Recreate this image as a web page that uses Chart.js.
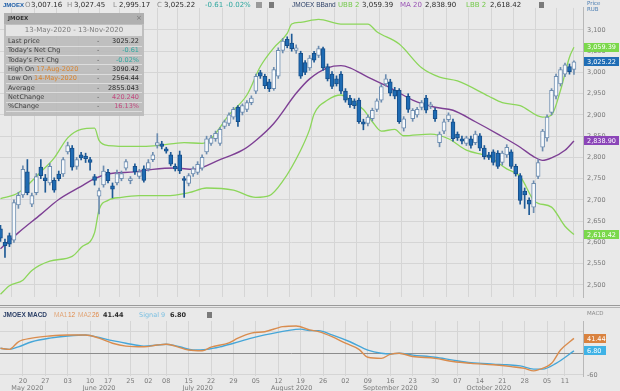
<!DOCTYPE html>
<html>
<head>
<meta charset="utf-8">
<script src="https://cdn.jsdelivr.net/npm/chart.js@4.4.1/dist/chart.umd.min.js"></script>
<style>
  html, body { margin: 0; padding: 0; background: #e9e9e9; }
  #box { position: relative; width: 620px; height: 391px; overflow: hidden; }
  canvas { position: absolute; left: 0; }
</style>
</head>
<body>
<div id="box">
  <canvas id="priceChart" width="620" height="305" style="top:0"></canvas>
  <canvas id="macdChart" width="620" height="86" style="top:305px"></canvas>
</div>
<script>
// trading days, 13 May - 13 Nov 2020
var dates = [
  '2020-05-13','2020-05-14','2020-05-15','2020-05-18','2020-05-19','2020-05-20','2020-05-21','2020-05-22','2020-05-25','2020-05-26','2020-05-27','2020-05-28','2020-05-29',
  '2020-06-01','2020-06-02','2020-06-03','2020-06-04','2020-06-05','2020-06-08','2020-06-09','2020-06-10','2020-06-11','2020-06-15','2020-06-16','2020-06-17','2020-06-18','2020-06-19','2020-06-22','2020-06-23','2020-06-25','2020-06-26','2020-06-29','2020-06-30',
  '2020-07-02','2020-07-03','2020-07-06','2020-07-07','2020-07-08','2020-07-09','2020-07-10','2020-07-13','2020-07-14','2020-07-15','2020-07-16','2020-07-17','2020-07-20','2020-07-21','2020-07-22','2020-07-23','2020-07-24','2020-07-27','2020-07-28','2020-07-29','2020-07-30','2020-07-31',
  '2020-08-03','2020-08-04','2020-08-05','2020-08-06','2020-08-07','2020-08-10','2020-08-11','2020-08-12','2020-08-13','2020-08-14','2020-08-17','2020-08-18','2020-08-19','2020-08-20','2020-08-21','2020-08-24','2020-08-25','2020-08-26','2020-08-27','2020-08-28','2020-08-31',
  '2020-09-01','2020-09-02','2020-09-03','2020-09-04','2020-09-07','2020-09-08','2020-09-09','2020-09-10','2020-09-11','2020-09-14','2020-09-15','2020-09-16','2020-09-17','2020-09-18','2020-09-21','2020-09-22','2020-09-23','2020-09-24','2020-09-25','2020-09-28','2020-09-29','2020-09-30',
  '2020-10-01','2020-10-02','2020-10-05','2020-10-06','2020-10-07','2020-10-08','2020-10-09','2020-10-12','2020-10-13','2020-10-14','2020-10-15','2020-10-16','2020-10-19','2020-10-20','2020-10-21','2020-10-22','2020-10-23','2020-10-26','2020-10-27','2020-10-28','2020-10-29','2020-10-30',
  '2020-11-02','2020-11-03','2020-11-05','2020-11-06','2020-11-09','2020-11-10','2020-11-11','2020-11-12','2020-11-13'
];

var openP = [2632,2600,2616,2605,2688,2712,2766,2690,2717,2777,2752,2740,2746,
  2761,2761,2813,2822,2779,2806,2803,2795,2755,2709,2735,2765,2733,2740,2750,2775,2745,2779,2755,2773,
  2773,2795,2828,2832,2820,2806,2779,2806,2750,2739,2761,2765,2775,2813,2833,2844,2833,2873,2880,2895,2918,2906,
  2913,2929,2956,3000,2991,2978,2962,2991,3052,3078,3069,3052,3045,3023,3011,3045,3040,3056,3014,2996,2985,
  2996,2956,2940,2933,2935,2884,2880,2891,2913,2935,2973,2978,2958,2958,2869,2944,2891,2900,2918,2940,2922,2911,
  2835,2862,2889,2884,2855,2844,2833,2844,2835,2851,2822,2806,2813,2810,2788,2806,2813,2779,2757,2721,2699,2683,
  2755,2824,2846,2906,2944,2973,2996,3014,3007.16];
var highP = [2640,2608,2622,2700,2718,2780,2795,2716,2762,2795,2760,2786,2752,
  2768,2800,2836,2828,2800,2812,2810,2800,2760,2728,2780,2772,2740,2770,2768,2795,2755,2785,2772,2780,
  2795,2812,2856,2838,2824,2812,2785,2815,2755,2762,2778,2790,2806,2850,2852,2862,2870,2888,2905,2918,2922,2926,
  2934,2945,2996,3005,2996,2984,3012,3058,3080,3084,3090.42,3065,3050,3028,3040,3050,3062,3060,3020,3002,2992,
  3002,2962,2946,2938,2940,2890,2900,2916,2938,2972,2995,2984,2965,2962,2896,2950,2915,2918,2934,2946,2930,2916,
  2860,2890,2905,2890,2860,2850,2850,2850,2862,2856,2828,2812,2818,2816,2815,2830,2818,2784,2762,2728,2705,2745,
  2795,2866,2900,2962,2996,3012,3022,3020,3027.45];
var lowP = [2602,2564.44,2590,2600,2680,2706,2712,2684,2712,2750,2718,2735,2718,
  2745,2755,2808,2770,2772,2794,2788,2770,2735,2667,2730,2740,2705,2735,2745,2770,2738,2760,2750,2742,
  2768,2790,2822,2820,2810,2780,2768,2762,2706,2733,2755,2760,2770,2808,2828,2838,2828,2868,2875,2890,2873,2900,
  2908,2924,2950,2986,2962,2955,2958,2986,3046,3058,3050,3045,2986,2995,3005,3024,3035,3005,2980,2962,2968,
  2950,2930,2918,2915,2880,2865,2874,2886,2908,2930,2968,2945,2938,2880,2862,2906,2885,2895,2912,2905,2915,2885,
  2825,2856,2884,2838,2840,2832,2828,2822,2830,2816,2796,2795,2782,2774,2782,2800,2774,2756,2690,2680,2665,2670,
  2750,2815,2838,2900,2938,2968,2990,2996,2995.17];
var closeP = [2610,2592,2596,2694,2711,2772,2717,2710,2755,2757,2745,2779,2723,
  2750,2795,2828,2777,2795,2799,2797,2788,2746,2722,2768,2745,2725,2762,2762,2790,2750,2766,2766,2746,
  2788,2806,2835,2826,2815,2784,2773,2768,2746,2757,2773,2784,2800,2844,2846,2857,2866,2884,2900,2913,2884,2922,
  2929,2940,2991,2991,2969,2962,3007,3052,3074,3063,3056,3058,2991,3000,3034,3029,3056,3011,2985,2967,2973,
  2956,2935,2924,2922,2884,2878,2895,2911,2933,2967,2985,2951,2944,2884,2891,2913,2911,2913,2929,2911,2924,2891,
  2855,2884,2900,2844,2846,2838,2846,2828,2855,2822,2802,2800,2788,2779,2810,2824,2779,2761,2699,2712,2690,2739,
  2788,2862,2895,2958,2991,3007,3018,3002,3025.22];

// Bollinger bands (2, 20): day number -> value
var upperDay = [0,4,9,12,15,18,21,22,24,30,35,41,45,47,51,55,58,61,64,65,67,71,76,82,84,89,94,98,102,109,112,116,121,123,125,127,128];
var upperBand = [2703,2717,2766,2799,2846,2866,2869,2840,2828,2826,2828,2835,2833,2844,2900,2947,3014,3058,3092,3114,3118,3125,3114,3114,3096,3067,3011,2989,2980,2944,2929,2922,2895,2900,2958,3036,3059.39];
var maDay = [0,4,9,13,18,21,24,30,34,39,43,49,54,57,61,66,69,73,76,78,82,86,88,92,97,101,106,111,116,119,121,123,126,128];
var maLine = [2585,2623,2666,2701,2732,2750,2761,2766,2772,2775,2772,2795,2817,2840,2880,2951,2985,3011,3016,3011,2989,2969,2958,2935,2918,2911,2884,2855,2824,2802,2793,2799,2817,2838.90];
var lowerDay = [0,2,5,7,11,16,18,21,22,24,27,31,37,42,46,52,57,60,63,67,69,70,73,76,78,81,83,85,88,90,96,100,104,109,113,116,119,120,123,126,128];
var lowerBand = [2478,2498,2511,2534,2556,2567,2588,2623,2677,2699,2706,2710,2710,2717,2728,2723,2706,2710,2744,2817,2866,2902,2935,2947,2935,2913,2884,2862,2866,2851,2855,2844,2817,2802,2773,2755,2699,2692,2683,2638,2618.42];

// MACD (12, 26) and signal (9)
var macdDay = [0,2,4,7,11,15,19,22,25,28,32,35,37,39,42,45,47,51,53,56,59,63,66,69,71,74,77,80,82,85,87,89,92,97,101,105,110,114,117,119,120,123,125,128];
var macdLine = [14,11,32,42,48,51,51,42,28,20,18,23,25,20,9,7,17,29,42,56,60,74,76,65,60,46,28,11,-11,-14,-3,0,-9,-14,-23,-28,-32,-37,-42,-49,-46,-28,9,41.44];
var signalDay = [0,2,4,7,11,15,19,22,25,28,32,35,37,40,43,46,49,52,56,59,64,67,69,71,74,78,82,85,87,89,92,97,101,105,110,113,116,119,121,124,128];
var signalLine = [14,11,18,32,42,48,51,44,35,28,20,23,25,18,9,11,18,28,42,51,63,67,63,63,51,32,9,0,-2,0,-5,-11,-19,-26,-30,-32,-35,-44,-44,-28,6.80];

var priceTicks = [2500,2550,2600,2650,2700,2750,2800,2850,2900,2950,3000,3050,3100];
var weekTicks = ['2020-05-20','2020-05-27','2020-06-03','2020-06-10','2020-06-17','2020-06-25','2020-07-02','2020-07-08','2020-07-15','2020-07-22','2020-07-29',
  '2020-08-05','2020-08-12','2020-08-19','2020-08-26','2020-09-02','2020-09-09','2020-09-16','2020-09-23','2020-09-30','2020-10-07','2020-10-14','2020-10-21','2020-10-28','2020-11-05','2020-11-11'];
var monthLabels = ['May 2020','June 2020','July 2020','August 2020','September 2020','October 2020'];
var monthAt = ['2020-05-21','2020-06-15','2020-07-17','2020-08-17','2020-09-16','2020-10-16'];

var FONT = '"DejaVu Sans", "Liberation Sans", sans-serif';
var LIB = '"Liberation Sans", Arial, sans-serif';
var GRID = '#d5d5d5';
var weekIdx = weekTicks.map(function (d) { return dates.indexOf(d); });
var monthIdx = monthAt.map(function (d) { return dates.indexOf(d); });
var X_MIN = -0.11, X_MAX = 130.02;

function pts(days, vals) {
  return days.map(function (d, i) { return { x: d, y: vals[i] }; });
}
var isUp = closeP.map(function (c, i) { return c >= openP[i]; });

function txt(ctx, s, x, y, color, size, bold, align, fam) {
  ctx.font = (bold ? 'bold ' : '') + size + 'px ' + (fam || FONT);
  ctx.fillStyle = color;
  ctx.textAlign = align || 'left';
  ctx.textBaseline = 'middle';
  ctx.fillText(s, x, y);
}
function badge(ctx, s, y, bg, w) {
  ctx.fillStyle = bg;
  ctx.fillRect(584, Math.round(y - 4.5), w, 9);
  txt(ctx, s, 587, y + 0.5, '#ffffff', 6.5);
}

var priceOverlay = {
  id: 'priceOverlay',
  afterDraw: function (chart) {
    var ctx = chart.ctx, ys = chart.scales.y;
    ctx.save();
    // header line 1
    var dark = '#2b2b2b', gray = '#8c8c8c', teal = '#2ea79f';
    txt(ctx, 'JMOEX', 3, 5, '#1f5fa8', 6, true, 'left', LIB);
    txt(ctx, 'O', 25, 5, gray, 7); txt(ctx, '3,007.16', 31, 5, dark, 7);
    txt(ctx, 'H', 67, 5, gray, 7); txt(ctx, '3,027.45', 74, 5, dark, 7);
    txt(ctx, 'L', 113, 5, gray, 7); txt(ctx, '2,995.17', 119, 5, dark, 7);
    txt(ctx, 'C', 157, 5, gray, 7); txt(ctx, '3,025.22', 164, 5, dark, 7);
    txt(ctx, '-0.61', 205, 5, teal, 7); txt(ctx, '-0.02%', 226, 5, teal, 7);
    ctx.fillStyle = '#9a9a9a'; ctx.fillRect(256, 2, 6, 6);
    ctx.fillStyle = '#7a7a7a'; ctx.fillRect(269, 2, 5, 6);
    // header line 2
    txt(ctx, 'JMOEX BBand', 292, 5, '#2b3f66', 6.5, false, 'left', LIB);
    txt(ctx, 'UBB 2', 338, 5, '#74c94a', 7); txt(ctx, '3,059.39', 362, 5, dark, 7);
    txt(ctx, 'MA 20', 400, 5, '#9a55b5', 7); txt(ctx, '2,838.90', 425, 5, dark, 7);
    txt(ctx, 'LBB 2', 466, 5, '#74c94a', 7); txt(ctx, '2,618.42', 490, 5, dark, 7);
    ctx.fillStyle = '#7a7a7a'; ctx.fillRect(539, 2, 5, 6);
    // info box
    ctx.fillStyle = 'rgba(186,186,186,0.9)'; ctx.fillRect(4, 13, 140, 103);
    ctx.fillStyle = '#b0b0b0'; ctx.fillRect(4, 13, 140, 11);
    txt(ctx, 'JMOEX', 8, 18.5, '#333', 5.5, true);
    txt(ctx, '\u00d7', 139, 18.5, '#777', 7, false, 'center');
    ctx.fillStyle = '#e4e4e4'; ctx.fillRect(6, 25, 136, 11);
    txt(ctx, '13-May-2020 - 13-Nov-2020', 74, 30.5, '#7a7a7a', 7, false, 'center');
    var rows = [
      ['Last price', '3025.22', dark], ["Today's Net Chg", '-0.61', teal], ["Today's Pct Chg", '-0.02%', teal],
      ['High On', '3090.42', dark, '17-Aug-2020'], ['Low On', '2564.44', dark, '14-May-2020'],
      ['Average', '2855.043', dark], ['NetChange', '420.240', '#c2477e'], ['%Change', '16.13%', '#c2477e']
    ];
    rows.forEach(function (r, k) {
      var y = 41.5 + k * 9.3;
      ctx.fillStyle = 'rgba(228,228,228,0.8)'; ctx.fillRect(6, Math.round(y + 4.3), 136, 1);
      txt(ctx, r[0], 8, y, '#3d3d3d', 6.5);
      if (r[3]) {
        ctx.font = '6.5px ' + FONT;
        txt(ctx, r[3], 10 + ctx.measureText(r[0]).width, y, '#d9822b', 6.5);
      }
      txt(ctx, '-', 97, y, '#555', 6.5);
      txt(ctx, r[1], 139, y, r[2], 6.5, false, 'right');
    });
    // right scale title
    txt(ctx, 'Price', 587, 3.5, '#4d7fb3', 5.5);
    txt(ctx, 'RUB', 587, 9.5, '#4d7fb3', 5.5);
    // last value badges
    badge(ctx, '3,059.39', ys.getPixelForValue(upperBand[upperBand.length - 1]), '#7bd84c', 35);
    badge(ctx, '3,025.22', ys.getPixelForValue(closeP[closeP.length - 1]), '#1f6db5', 35);
    badge(ctx, '2,838.90', ys.getPixelForValue(maLine[maLine.length - 1]), '#8b45b8', 35);
    badge(ctx, '2,618.42', ys.getPixelForValue(lowerBand[lowerBand.length - 1]), '#7bd84c', 35);
    ctx.restore();
  }
};

new Chart(document.getElementById('priceChart'), {
  type: 'bar',
  data: {
    datasets: [
      {
        label: 'body',
        data: dates.map(function (d, i) { return { x: i, y: [openP[i], closeP[i]] }; }),
        backgroundColor: isUp.map(function (u) { return u ? '#f7f9fb' : '#1e6bb3'; }),
        borderColor: isUp.map(function (u) { return u ? '#6d8db0' : '#174f8a'; }),
        borderWidth: 1, borderSkipped: false, barThickness: 4, grouped: false, minBarLength: 1
      },
      {
        label: 'wick',
        data: dates.map(function (d, i) { return { x: i, y: [lowP[i], highP[i]] }; }),
        backgroundColor: isUp.map(function (u) { return u ? '#6d8db0' : '#1e5a96'; }),
        borderWidth: 0, barThickness: 1, grouped: false
      },
      { type: 'line', label: 'UBB', data: pts(upperDay, upperBand), borderColor: '#8cd65a', borderWidth: 1.3, pointRadius: 0, cubicInterpolationMode: 'monotone' },
      { type: 'line', label: 'MA', data: pts(maDay, maLine), borderColor: '#7d3f94', borderWidth: 1.4, pointRadius: 0, cubicInterpolationMode: 'monotone' },
      { type: 'line', label: 'LBB', data: pts(lowerDay, lowerBand), borderColor: '#8cd65a', borderWidth: 1.3, pointRadius: 0, cubicInterpolationMode: 'monotone' }
    ]
  },
  options: {
    responsive: false, animation: false, devicePixelRatio: 1, events: [],
    layout: { padding: 0 },
    plugins: { legend: { display: false }, tooltip: { enabled: false } },
    scales: {
      x: {
        type: 'linear', min: X_MIN, max: X_MAX, offset: false,
        ticks: { display: false },
        grid: { color: GRID, drawTicks: false },
        border: { display: false },
        afterBuildTicks: function (s) { s.ticks = weekIdx.map(function (v) { return { value: v }; }); },
        afterFit: function (s) { s.height = 0; }
      },
      y: {
        position: 'right', min: 2471.2, max: 3152,
        ticks: { color: '#7a7a7a', font: { size: 6.5, family: FONT }, padding: 4,
          callback: function (v) { return v.toLocaleString('en-US'); } },
        grid: { color: GRID, drawTicks: false },
        border: { display: true, color: '#b8b8b8' },
        afterBuildTicks: function (s) { s.ticks = priceTicks.map(function (v) { return { value: v }; }); },
        afterFit: function (s) { s.width = 37; }
      }
    }
  },
  plugins: [priceOverlay]
});

var macdOverlay = {
  id: 'macdOverlay',
  afterDraw: function (chart) {
    var ctx = chart.ctx, ys = chart.scales.y;
    ctx.save();
    ctx.fillStyle = '#9a9a9a'; ctx.fillRect(0, 0, 620, 1);
    ctx.fillStyle = '#b5b5b5'; ctx.fillRect(0, 2, 620, 1);
    txt(ctx, 'JMOEX MACD', 3, 10, '#2b3f66', 6.5, true, 'left', LIB);
    txt(ctx, 'MA1', 54, 10, '#e2a77a', 6.5, false, 'left', LIB); txt(ctx, '12', 68, 10, '#e08a4a', 6.5, false, 'left', LIB);
    txt(ctx, 'MA2', 78, 10, '#e2a77a', 6.5, false, 'left', LIB); txt(ctx, '26', 92, 10, '#e08a4a', 6.5, false, 'left', LIB);
    txt(ctx, '41.44', 103, 10, '#2b2b2b', 6.5, true);
    txt(ctx, 'Signal 9', 139, 10, '#7cc0e2', 6.5);
    txt(ctx, '6.80', 170, 10, '#2b2b2b', 6.5, true);
    ctx.fillStyle = '#7a7a7a'; ctx.fillRect(207, 7, 5, 6);
    txt(ctx, 'MACD', 587, 9, '#8a8a8a', 5.5);
    badge(ctx, '41.44', ys.getPixelForValue(macdLine[macdLine.length - 1]), '#d9823f', 22);
    badge(ctx, '6.80', ys.getPixelForValue(signalLine[signalLine.length - 1]), '#3fb2e6', 22);
    ctx.restore();
  }
};

new Chart(document.getElementById('macdChart'), {
  type: 'line',
  data: {
    datasets: [
      { label: 'MACD', data: pts(macdDay, macdLine), borderColor: '#d98c4e', borderWidth: 1.4, pointRadius: 0, cubicInterpolationMode: 'monotone' },
      { label: 'Signal', data: pts(signalDay, signalLine), borderColor: '#46a6d8', borderWidth: 1.4, pointRadius: 0, cubicInterpolationMode: 'monotone' }
    ]
  },
  options: {
    responsive: false, animation: false, devicePixelRatio: 1, events: [],
    layout: { padding: { top: 16 } },
    plugins: { legend: { display: false }, tooltip: { enabled: false } },
    scales: {
      x: {
        type: 'linear', min: X_MIN, max: X_MAX, weight: 0,
        ticks: { color: '#7a7a7a', font: { size: 6.5, family: FONT }, padding: 1, autoSkip: false, maxRotation: 0,
          callback: function (v) { return dates[v].slice(8); } },
        grid: { color: GRID, drawTicks: false },
        border: { display: false },
        afterBuildTicks: function (s) { s.ticks = weekIdx.map(function (v) { return { value: v }; }); },
        afterFit: function (s) { s.height = 8; }
      },
      xm: {
        type: 'linear', position: 'bottom', min: X_MIN, max: X_MAX, weight: 1,
        ticks: { color: '#7a7a7a', font: { size: 6.5, family: FONT }, padding: 0, autoSkip: false, maxRotation: 0,
          callback: function (v, i) { return monthLabels[i]; } },
        grid: { display: false, drawTicks: false },
        border: { display: false },
        afterBuildTicks: function (s) { s.ticks = monthIdx.map(function (v) { return { value: v }; }); },
        afterFit: function (s) { s.height = 7; }
      },
      y: {
        position: 'right', min: -63.1, max: 89.7,
        ticks: { color: '#7a7a7a', font: { size: 6.5, family: FONT }, padding: 4,
          callback: function (v) { return v === -60 ? '-60' : ''; } },
        grid: { color: function (c) { return c.tick && c.tick.value === 0 ? '#8c8c8c' : GRID; }, drawTicks: false },
        border: { display: true, color: '#b8b8b8' },
        afterBuildTicks: function (s) { s.ticks = [{ value: -60 }, { value: 0 }, { value: 60 }]; },
        afterFit: function (s) { s.width = 37; }
      }
    }
  },
  plugins: [macdOverlay]
});
</script>
</body>
</html>
